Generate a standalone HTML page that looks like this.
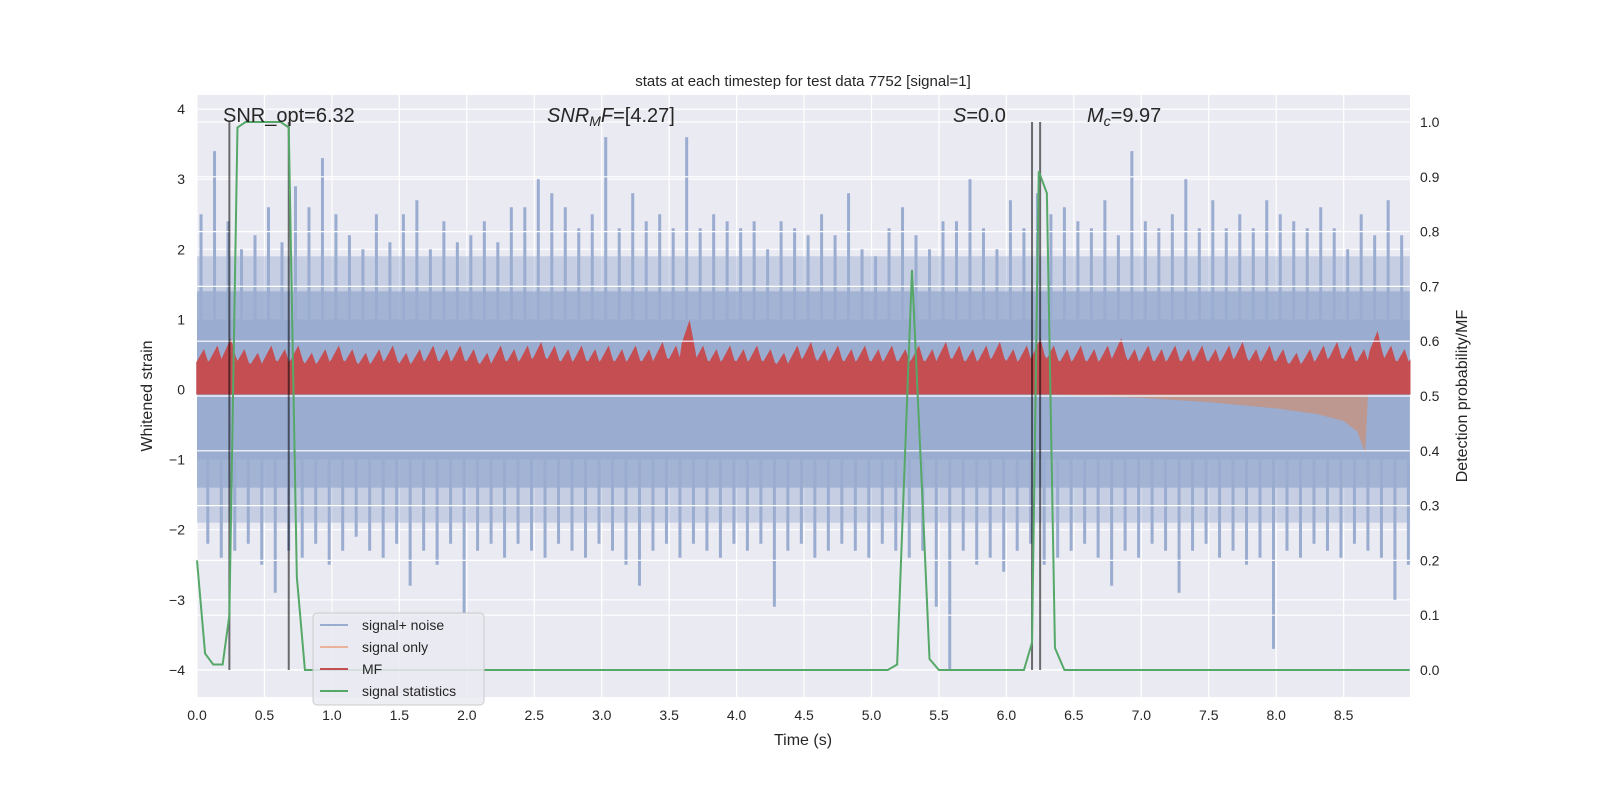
<!DOCTYPE html>
<html><head><meta charset="utf-8"><style>
body{margin:0;background:#fff;}
svg{display:block;font-family:"Liberation Sans","DejaVu Sans",sans-serif;}
</style></head><body>
<svg id="chart" width="1600" height="800" viewBox="0 0 1600 800" xmlns="http://www.w3.org/2000/svg">
<rect x="197" y="95" width="1213" height="602" fill="#eaeaf2"/>
<g id="gridL"></g>
<g id="noise"></g>
<g id="orange"></g>
<g id="mf"></g>
<g id="gridR"></g>
<g id="vlines"></g>
<g id="green"></g>
<g id="ticks"></g>
<text x="803" y="86" font-size="15" text-anchor="middle" fill="#262626">stats at each timestep for test data 7752 [signal=1]</text>
<text x="803" y="745" font-size="16" text-anchor="middle" fill="#262626">Time (s)</text>
<text transform="translate(152,396) rotate(-90)" font-size="16" text-anchor="middle" fill="#262626">Whitened strain</text>
<text transform="translate(1467,396) rotate(-90)" font-size="16" text-anchor="middle" fill="#262626">Detection probability/MF</text>
<text x="223" y="122" font-size="20" fill="#262626">SNR_opt=6.32</text>
<text x="547" y="122" font-size="20" fill="#262626"><tspan font-style="italic">SNR</tspan><tspan font-style="italic" font-size="14" dy="4">M</tspan><tspan font-style="italic" dy="-4">F</tspan>=[4.27]</text>
<text x="953" y="122" font-size="20" fill="#262626"><tspan font-style="italic">S</tspan>=0.0</text>
<text x="1087" y="122" font-size="20" fill="#262626"><tspan font-style="italic">M</tspan><tspan font-style="italic" font-size="14" dy="4">c</tspan><tspan dy="-4">=9.97</tspan></text>
<g>
<rect x="313" y="613" width="171" height="92" rx="4" fill="#eaeaf2" fill-opacity="0.85" stroke="#cccccc"/>
<line x1="320" y1="625" x2="348" y2="625" stroke="#9aacd0" stroke-width="2"/><text x="362" y="630" font-size="14" fill="#262626">signal+ noise</text>
<line x1="320" y1="647" x2="348" y2="647" stroke="#e9b39a" stroke-width="2"/><text x="362" y="652" font-size="14" fill="#262626">signal only</text>
<line x1="320" y1="669" x2="348" y2="669" stroke="#c44e52" stroke-width="2"/><text x="362" y="674" font-size="14" fill="#262626">MF</text>
<line x1="320" y1="691" x2="348" y2="691" stroke="#55a868" stroke-width="2"/><text x="362" y="696" font-size="14" fill="#262626">signal statistics</text>
</g>
</svg>
<script>
const noisePeaks=[2.5,3.4,2.4,2.0,2.2,2.6,2.1,2.9,2.6,3.3,2.5,2.2,2.0,2.5,2.1,2.5,2.7,2.0,2.4,2.1,2.2,2.4,2.1,2.6,2.6,3.0,2.8,2.6,2.3,2.5,3.6,2.3,2.8,2.4,2.5,2.3,3.6,2.3,2.5,2.4,2.3,2.4,2.0,2.4,2.3,2.2,2.5,2.2,2.8,2.0,1.9,2.3,2.6,2.2,2.0,2.4,2.4,3.0,2.3,2.0,2.7,2.3,2.8,2.5,2.6,2.4,2.3,2.7,2.2,3.4,2.4,2.3,2.5,3.0,2.3,2.7,2.3,2.5,2.3,2.7,2.5,2.4,2.3,2.6,2.3,2.0,2.5,2.2,2.7,2.2];
const noiseTroughs=[-2.2,-2.4,-2.3,-2.2,-2.5,-2.9,-2.3,-2.4,-2.2,-2.5,-2.3,-2.1,-2.3,-2.4,-2.2,-2.8,-2.3,-2.5,-2.2,-3.2,-2.3,-2.2,-2.4,-2.2,-2.3,-2.4,-2.2,-2.3,-2.4,-2.2,-2.3,-2.5,-2.8,-2.3,-2.2,-2.4,-2.2,-2.3,-2.4,-2.2,-2.3,-2.2,-3.1,-2.3,-2.2,-2.4,-2.3,-2.2,-2.3,-2.4,-2.2,-2.3,-2.4,-2.3,-3.1,-4.0,-2.3,-2.5,-2.4,-2.6,-2.3,-2.2,-2.5,-2.4,-2.3,-2.2,-2.4,-2.8,-2.3,-2.4,-2.2,-2.3,-2.9,-2.3,-2.2,-2.4,-2.3,-2.5,-2.4,-3.7,-2.3,-2.4,-2.2,-2.3,-2.4,-2.2,-2.3,-2.4,-3.0,-2.5];
const mfUp=[0.55,0.6,0.7,0.55,0.5,0.6,0.55,0.6,0.5,0.55,0.6,0.55,0.5,0.55,0.6,0.5,0.55,0.6,0.55,0.6,0.55,0.5,0.6,0.55,0.6,0.65,0.6,0.55,0.6,0.55,0.6,0.55,0.6,0.55,0.65,0.6,0.95,0.6,0.55,0.6,0.55,0.6,0.55,0.5,0.6,0.65,0.55,0.6,0.55,0.6,0.55,0.6,0.55,0.6,0.55,0.65,0.6,0.55,0.6,0.65,0.55,0.6,0.7,0.6,0.55,0.6,0.55,0.6,0.7,0.55,0.6,0.55,0.6,0.55,0.6,0.55,0.6,0.65,0.55,0.6,0.55,0.5,0.55,0.6,0.65,0.6,0.55,0.8,0.6,0.55];
const mfLo=[-0.06];
const orangeT=[5.5,6.0,6.5,7.0,7.5,8.0,8.3,8.5,8.6,8.66,8.68];
const orangeLo=[-0.03,-0.06,-0.08,-0.12,-0.18,-0.27,-0.35,-0.45,-0.6,-0.9,-0.1];
const orangeHi=[0.03,0.05,0.06,0.08,0.1,0.12,0.14,0.16,0.2,0.3,0.0];
const statT=[0,0.06,0.12,0.19,0.24,0.3,0.36,0.5,0.62,0.68,0.74,0.8,5.12,5.19,5.3,5.38,5.43,5.5,6.13,6.19,6.24,6.3,6.36,6.43,8.99];
const statV=[0.2,0.03,0.01,0.01,0.1,0.99,1.0,1.0,1.0,0.99,0.17,0.0,0.0,0.01,0.73,0.3,0.02,0.0,0.0,0.05,0.91,0.87,0.04,0.0,0.0];
const markT=[0.24,0.68,6.19,6.25];
const xTicks=[0,0.5,1,1.5,2,2.5,3,3.5,4,4.5,5,5.5,6,6.5,7,7.5,8,8.5];
const yTicks=[-4,-3,-2,-1,0,1,2,3,4];
const rTicks=[0,0.1,0.2,0.3,0.4,0.5,0.6,0.7,0.8,0.9,1.0];

const NS="http://www.w3.org/2000/svg";
const X=t=>197+134.9*t, YL=v=>389.5-70.1*v, YR=p=>670-548*p;
function mk(tag,attrs,parent){const e=document.createElementNS(NS,tag);for(const k in attrs)e.setAttribute(k,attrs[k]);parent.appendChild(e);return e;}
const g=id=>document.getElementById(id);
yTicks.forEach(v=>{const l=mk('line',{x1:197,x2:1410,y1:YL(v),y2:YL(v),stroke:'#fff','stroke-width':1.2},g('gridL'));

});
xTicks.forEach(t=>{const l=mk('line',{x1:X(t),x2:X(t),y1:95,y2:697,stroke:'#fff','stroke-width':1.2},g('gridL'));

});
rTicks.forEach(p=>{const l=mk('line',{x1:197,x2:1410,y1:YR(p),y2:YR(p),stroke:'#fff','stroke-width':1.2},g('gridR'));

});
// noise
const n=noisePeaks.length;
mk('rect',{x:X(0),y:YL(1.9),width:X(8.99)-X(0),height:YL(-1.9)-YL(1.9),fill:'#9aacd0','fill-opacity':0.45},g('noise'));
mk('rect',{x:X(0),y:YL(1.4),width:X(8.99)-X(0),height:YL(-1.4)-YL(1.4),fill:'#9aacd0','fill-opacity':0.8},g('noise'));
mk('rect',{x:X(0),y:YL(1.0),width:X(8.99)-X(0),height:YL(-1.0)-YL(1.0),fill:'#9aacd0'},g('noise'));
for(let i=0;i<n;i++){
 const t=i*0.1+0.03;
 const s=mk('line',{x1:X(t),x2:X(t),y1:YL(noisePeaks[i]),y2:YL(1.0),stroke:'#9aacd0','stroke-width':3},g('noise'));
 
 
 const s2=mk('line',{x1:X(t+0.05),x2:X(t+0.05),y1:YL(-1.0),y2:YL(noiseTroughs[i]),stroke:'#9aacd0','stroke-width':3},g('noise'));
 
 
}
let op='M'+X(orangeT[0])+','+YL(orangeHi[0]);
orangeT.forEach((t,i)=>op+=' L'+X(t)+','+YL(orangeHi[i]));
for(let i=orangeT.length-1;i>=0;i--)op+=' L'+X(orangeT[i])+','+YL(orangeLo[i]);
const o=mk('path',{d:op+'Z',fill:'#dd8452','fill-opacity':0.5},g('orange'));


let mp='M'+X(0)+','+YL(mfLo[0]);
for(let i=0;i<mfUp.length;i++){mp+=' L'+X(i*0.1)+','+YL(mfUp[i]*0.7)+' L'+X(i*0.1+0.05)+','+YL(mfUp[i])+' L'+X(i*0.1+0.08)+','+YL(mfUp[i]*0.68);}
mp+=' L'+X(8.99)+','+YL(0.4)+' L'+X(8.99)+','+YL(mfLo[0])+'Z';
const m=mk('path',{d:mp,fill:'#c44e52',stroke:'#c44e52','stroke-width':1.5},g('mf'));


markT.forEach(t=>{const l=mk('line',{x1:X(t),x2:X(t),y1:YR(1.0),y2:YR(0),stroke:'#000','stroke-opacity':0.55,'stroke-width':2},g('vlines'));

});
const pl=mk('polyline',{points:statT.map((t,i)=>X(t)+','+YR(statV[i])).join(' '),fill:'none',stroke:'#55a868','stroke-width':2},g('green'));


xTicks.forEach(t=>{const e=mk('text',{x:X(t),y:720,'font-size':14,'text-anchor':'middle',fill:'#262626'},g('ticks'));e.textContent=t.toFixed(1);

});
yTicks.forEach(v=>{const e=mk('text',{x:185,y:YL(v)+5,'font-size':14,'text-anchor':'end',fill:'#262626'},g('ticks'));e.textContent=(v<0?'\u2212':'')+Math.abs(v);

});
rTicks.forEach(p=>{const e=mk('text',{x:1420,y:YR(p)+5,'font-size':14,fill:'#262626'},g('ticks'));e.textContent=p.toFixed(1);

});
</script>
</body></html>
